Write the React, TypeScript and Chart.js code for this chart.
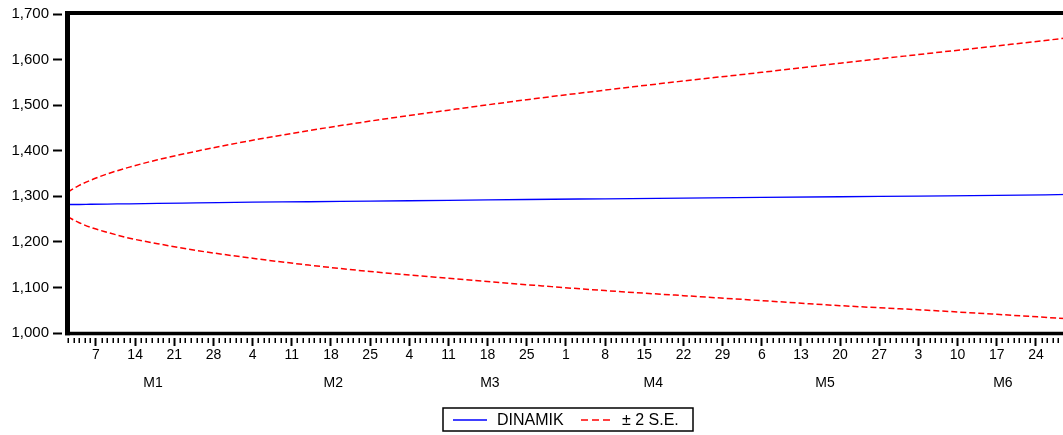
import { useEffect, useRef } from 'react';
import { Chart, registerables } from 'chart.js';

Chart.register(...registerables);

// Day-of-year positions of the sampled forecast observations (Jan 2 .. Jun 30)
const days = [2, 3, 4, 6, 9, 13, 18, 25, 35, 45, 56, 70, 84, 98, 112, 126, 140, 154, 168, 181];
const dinamik = [1282, 1282, 1282, 1282.5, 1283, 1283.5, 1284.5, 1285.5, 1287, 1288, 1289.5, 1291, 1293, 1294.5, 1296, 1297.5, 1299, 1300.5, 1302, 1304];
const upperBand = [1309, 1317, 1324, 1335, 1349, 1364, 1380, 1399, 1423, 1444, 1465, 1489, 1512, 1533, 1553, 1572, 1592, 1611, 1630, 1648];
const lowerBand = [1255, 1248, 1242, 1232, 1221, 1208, 1196, 1181, 1164, 1149, 1135, 1120, 1106, 1093, 1082, 1071, 1060, 1051, 1041, 1031];

// X axis: labelled day ticks
const tickDays = [7, 14, 21, 28, 35, 42, 49, 56, 63, 70, 77, 84, 91, 98, 105, 112, 119, 126, 133, 140, 147, 154, 161, 168, 175];
const tickLabels = ['7', '14', '21', '28', '4', '11', '18', '25', '4', '11', '18', '25', '1', '8', '15', '22', '29', '6', '13', '20', '27', '3', '10', '17', '24'];
const monthLabels = ['M1', 'M2', 'M3', 'M4', 'M5', 'M6'];
const monthLabelDays = [17.2, 49.4, 77.4, 106.6, 137.3, 169.1];
const firstDay = 2;
const lastDay = 181;

const yMin = 1000;
const yMax = 1700;
const yStep = 100;

const legendLabels = ['DINAMIK', '\u00B1 2 S.E.'];

const FONT = '"Liberation Sans", Arial, sans-serif';

const decorPlugin = {
  id: 'decor',
  afterDatasetsDraw(chart: any) {
    const ctx = chart.ctx as CanvasRenderingContext2D;
    const area = chart.chartArea;
    const xs = chart.scales.x;
    ctx.save();
    // minor day ticks
    ctx.strokeStyle = '#000';
    ctx.lineWidth = 1.5;
    for (let d = firstDay; d <= lastDay; d++) {
      if (tickDays.includes(d)) continue;
      const px = Math.round(xs.getPixelForValue(d)) + 0.25;
      ctx.beginPath();
      ctx.moveTo(px, area.bottom + 5);
      ctx.lineTo(px, area.bottom + 10);
      ctx.stroke();
    }
    // frame
    ctx.strokeStyle = '#000';
    ctx.lineWidth = 4;
    ctx.beginPath();
    ctx.moveTo(area.left - 3, area.top - 1);
    ctx.lineTo(area.right + 10, area.top - 1);
    ctx.stroke();
    ctx.lineWidth = 3.5;
    ctx.beginPath();
    ctx.moveTo(area.left - 3, area.bottom + 0.5);
    ctx.lineTo(area.right + 10, area.bottom + 0.5);
    ctx.stroke();
    ctx.lineWidth = 5;
    ctx.beginPath();
    ctx.moveTo(area.left - 0.5, area.top - 3);
    ctx.lineTo(area.left - 0.5, area.bottom + 2.25);
    ctx.stroke();
    // month labels
    ctx.fillStyle = '#000';
    ctx.font = '14px ' + FONT;
    ctx.textAlign = 'center';
    ctx.textBaseline = 'middle';
    monthLabels.forEach((m, i) => {
      ctx.fillText(m, xs.getPixelForValue(monthLabelDays[i]), area.bottom + 50.5);
    });
    // legend
    const lx = 443, ly = 408, lw = 250, lh = 23;
    ctx.lineWidth = 1.5;
    ctx.strokeStyle = '#000';
    ctx.strokeRect(lx, ly, lw, lh);
    const my = ly + lh / 2 + 0.5;
    ctx.strokeStyle = '#0000FF';
    ctx.lineWidth = 1.3;
    ctx.beginPath();
    ctx.moveTo(453, my);
    ctx.lineTo(487, my);
    ctx.stroke();
    ctx.strokeStyle = '#FF0000';
    ctx.lineWidth = 1.5;
    ctx.setLineDash([7, 4]);
    ctx.beginPath();
    ctx.moveTo(581, my);
    ctx.lineTo(610, my);
    ctx.stroke();
    ctx.setLineDash([]);
    ctx.font = '16px ' + FONT;
    ctx.textAlign = 'left';
    ctx.textBaseline = 'middle';
    ctx.fillStyle = '#000';
    ctx.fillText(legendLabels[0], 497, my + 1);
    ctx.fillText(legendLabels[1], 622, my + 1);
    ctx.restore();
  },
};

export default function App() {
  const ref = useRef<HTMLCanvasElement | null>(null);
  useEffect(() => {
    if (!ref.current) return;
    const toPts = (vals: number[]) => vals.map((v, i) => ({ x: days[i], y: v }));
    const chart = new Chart(ref.current, {
      type: 'line',
      data: {
        datasets: [
          {
            label: legendLabels[0],
            data: toPts(dinamik),
            borderColor: '#0000FF',
            borderWidth: 1.3,
            pointRadius: 0,
            cubicInterpolationMode: 'monotone',
            fill: false,
          },
          {
            label: legendLabels[1],
            data: toPts(upperBand),
            borderColor: '#FF0000',
            borderWidth: 1.5,
            borderDash: [6, 3],
            pointRadius: 0,
            cubicInterpolationMode: 'monotone',
            fill: false,
          },
          {
            label: legendLabels[1] + ' lower',
            data: toPts(lowerBand),
            borderColor: '#FF0000',
            borderWidth: 1.5,
            borderDash: [6, 3],
            pointRadius: 0,
            cubicInterpolationMode: 'monotone',
            fill: false,
          },
        ],
      },
      options: {
        responsive: false,
        animation: false,
        devicePixelRatio: 1,
        layout: { padding: { top: 14, left: 0, right: 5.5, bottom: 0 } },
        plugins: {
          legend: { display: false },
          tooltip: { enabled: false },
        },
        scales: {
          x: {
            type: 'linear',
            position: 'bottom',
            min: firstDay,
            max: lastDay,
            afterBuildTicks: (scale: any) => {
              scale.ticks = tickDays.map((v) => ({ value: v }));
            },
            afterFit: (scale: any) => {
              scale.height = 102;
            },
            ticks: {
              autoSkip: false,
              maxRotation: 0,
              minRotation: 0,
              padding: 1,
              color: '#000',
              font: { family: FONT, size: 14 },
              callback: (v: any) => {
                const i = tickDays.indexOf(Number(v));
                return i >= 0 ? tickLabels[i] : '';
              },
            },
            grid: {
              drawOnChartArea: false,
              drawTicks: true,
              tickLength: 13,
              tickWidth: 2,
              tickColor: '#000',
            },
            border: { display: true, width: 10, color: 'rgba(0,0,0,0)' },
          },
          y: {
            type: 'linear',
            min: yMin,
            max: yMax,
            afterFit: (scale: any) => {
              scale.width = 68;
            },
            ticks: {
              stepSize: yStep,
              padding: 4,
              color: '#000',
              font: { family: FONT, size: 15 },
              callback: (v: any) => Number(v).toLocaleString('en-US'),
            },
            grid: {
              drawOnChartArea: false,
              drawTicks: true,
              tickLength: 15,
              tickWidth: 2,
              tickColor: '#000',
            },
            border: { display: true, width: 12, color: 'rgba(0,0,0,0)' },
          },
        },
      },
      plugins: [decorPlugin],
    } as any);
    return () => chart.destroy();
  }, []);
  return (
    <div
      style={{
        position: 'fixed',
        left: 0,
        top: 0,
        width: 1063,
        height: 435,
        overflow: 'hidden',
        background: '#fff',
      }}
    >
      <canvas ref={ref} width={1075} height={435} style={{ display: 'block' }} />
    </div>
  );
}
